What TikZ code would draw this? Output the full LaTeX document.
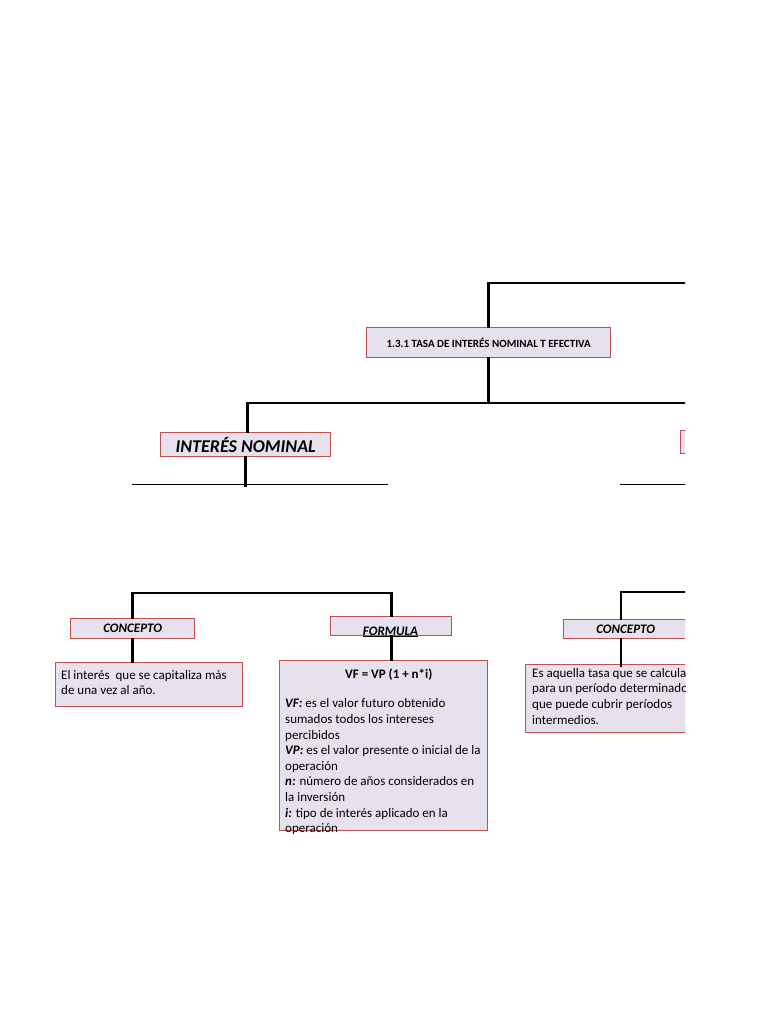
\documentclass[tikz,border=0pt]{standalone}
\usepackage{fontspec}
\setmainfont{Carlito}
\definecolor{boxfill}{HTML}{E7E1ED}
\definecolor{boxline}{HTML}{C0504D}
\begin{document}
\begin{tikzpicture}[x=1pt,y=-1pt,
  box/.style={draw=boxline, fill=boxfill, line width=1.4pt, inner sep=0pt, anchor=north west},
  conn/.style={line width=2.6pt, black, line cap=rect},
  thinline/.style={line width=1pt, black},
  txt/.style={inner sep=0pt, anchor=north west, align=left, font=\fontsize{13}{15.6}\selectfont}]
\useasboundingbox (0,0) rectangle (768,1024);
\fill[white] (0,0) rectangle (768,1024);
\begin{scope}
\clip (0,0) rectangle (685,1024);
% boxes
\node[box, minimum width=244pt, minimum height=30pt, font=\fontsize{11}{13}\selectfont\bfseries] (top) at (366,327) {1.3.1 TASA DE INTERÉS NOMINAL T EFECTIVA};
\node[box, minimum width=170pt, minimum height=24pt, font=\fontsize{18}{20}\selectfont\bfseries\itshape] (nom) at (160,432) {INTERÉS NOMINAL};
\node[box, minimum width=60pt, minimum height=23pt] (efe) at (680,430) {};
\node[box, minimum width=124pt, minimum height=20pt, font=\fontsize{13}{15}\selectfont\bfseries\itshape] (c1) at (70,618) {CONCEPTO};
\node[box, minimum width=121pt, minimum height=19pt] (f1) at (330,616) {};
\node[anchor=base, inner sep=0pt, font=\fontsize{13}{15}\selectfont\bfseries\itshape] (f1t) at (390.5,635) {\underline{FORMULA}};
\node[box, minimum width=187pt, minimum height=44pt] (ct) at (55,662) {};
\node[box, minimum width=208pt, minimum height=170pt] (fb) at (279,660) {};
\node[box, minimum width=124pt, minimum height=19pt, font=\fontsize{13}{15}\selectfont\bfseries\itshape] (c2) at (563,619) {CONCEPTO};
\node[box, minimum width=180pt, minimum height=68pt] (ct2) at (525,664) {};
% texts
\node[txt] (ctt) at (61,670) {El interés\ \ que se capitaliza más\\de una vez al año.};
\node[txt] (fbt) at (285,668.5) {\hspace*{60pt}\textbf{VF = VP (1 + n*i)}\\[14pt]
\textbf{\textit{VF:}} es el valor futuro obtenido\\
sumados todos los intereses\\
percibidos\\
\textbf{\textit{VP:}} es el valor presente o inicial de la\\
operación\\
\textbf{\textit{n:}} número de años considerados en\\
la inversión\\
\textbf{\textit{i:}} tipo de interés aplicado en la\\
operación};
\node[txt] (ct2t) at (532,668) {Es aquella tasa que se calcula\\para un período determinado\\que puede cubrir períodos\\intermedios.};
% coordinates
\coordinate (r1) at (690,283);
\coordinate (r2) at (690,403);
\coordinate (r3) at (690,592);
% connectors
\draw[conn] (top.north) |- (r1);
\draw[conn] (top.south) -- (top.south |- r2);
\draw[conn] (nom.north) ++(2,0) |- (r2);
\draw[conn] (nom.south) -- ++(0,28);
\draw[thinline] (132,484) -- (388,484);
\draw[thinline] (620,484) -- (690,484);
\draw[conn] (c1.north) -- ++(0,-25) -| (f1.north);
\draw[conn] (c1.south) -- (c1.south |- ct.north);
\draw[conn] (f1.south) -- (f1.south |- fb.north);
\draw[conn] (c2.north west) ++(58,0) |- (r3);
\draw[conn] (c2.south west) ++(58,0) -- ++(0,26);
\end{scope}
\end{tikzpicture}
\end{document}
